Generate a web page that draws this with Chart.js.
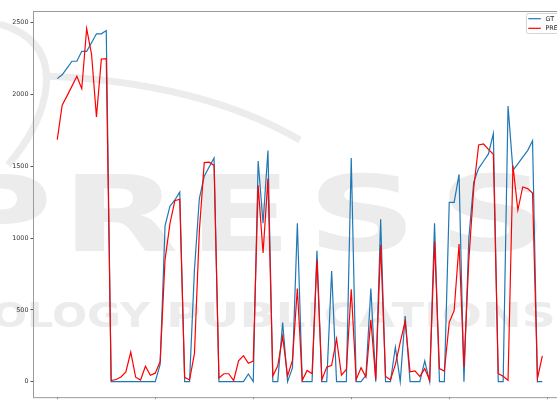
<!DOCTYPE html>
<html>
<head>
<meta charset="utf-8">
<script src="https://cdn.jsdelivr.net/npm/chart.js@4.4.1/dist/chart.umd.min.js"></script>
<style>
  html, body { margin: 0; padding: 0; background: #fff; overflow: hidden; }
  #wrap { width: 557px; height: 403px; overflow: hidden; }
  canvas { display: block; }
</style>
</head>
<body>
<div id="wrap"><canvas id="chart" width="580" height="403"></canvas></div>
<script>
// x ticks (labels are cut off below the picture), y ticks
const xTicks = [0, 20, 40, 60, 80, 100];
const yTicks = [0, 500, 1000, 1500, 2000, 2500];
const seriesNames = ['GT', 'PRE'];

// ground truth, 100 samples
const gtValues = [
  2110, 2137, 2183, 2231, 2231, 2300, 2300, 2360, 2422, 2422,
  2445, 0, 0, 0, 0, 0, 0, 0, 0, 0,
  0, 120, 1085, 1222, 1265, 1320, 0, 0, 780, 1275,
  1430, 1495, 1558, 0, 0, 0, 0, 0, 0, 53,
  0, 1536, 1103, 1609, 0, 0, 412, 0, 95, 1103,
  0, 0, 0, 912, 0, 0, 770, 0, 0, 0,
  1558, 0, 0, 44, 649, 0, 1130, 0, 0, 240,
  0, 456, 0, 0, 0, 145, 0, 1103, 0, 0,
  1248, 1248, 1443, 0, 1000, 1390, 1485, 1535, 1586, 1727,
  0, 0, 1920, 1471, 1517, 1563, 1609, 1678, 0, 0
];

// prediction, 100 samples
const preValues = [
  1685, 1925, 1990, 2058, 2127, 2040, 2459, 2280, 1844, 2247,
  2250, 8, 15, 33, 68, 206, 31, 11, 107, 45,
  59, 140, 850, 1100, 1260, 1270, 30, 12, 195, 1050,
  1525, 1528, 1506, 25, 55, 55, 8, 145, 181, 128,
  143, 1367, 896, 1414, 40, 110, 315, 40, 148, 649,
  9, 78, 55, 849, 14, 101, 113, 298, 45, 85,
  643, 14, 97, 32, 430, 15, 953, 36, 13, 118,
  275, 420, 68, 75, 36, 91, 10, 976, 91, 74,
  413, 494, 958, 104, 850, 1350, 1648, 1655, 1618, 1583,
  56, 38, 10, 1505, 1195, 1356, 1344, 1314, 22, 180
];

const lineColors = ['#1f77b4', '#ff0000'];

// white background, then the faint publisher watermark behind everything
const watermarkPlugin = {
  id: 'watermark',
  beforeDraw(chart) {
    const ctx = chart.ctx;
    ctx.save();
    ctx.fillStyle = '#fff';
    ctx.fillRect(0, 0, chart.width, chart.height);

    ctx.fillStyle = '#ececec';
    ctx.strokeStyle = '#ececec';
    ctx.lineWidth = 7;
    ctx.beginPath();
    ctx.moveTo(0, 24);
    ctx.quadraticCurveTo(55, 40, 45, 95);
    ctx.quadraticCurveTo(38, 130, 8, 165);
    ctx.stroke();
    ctx.beginPath();
    ctx.moveTo(45, 76);
    ctx.quadraticCurveTo(200, 82, 300, 140);
    ctx.stroke();

    ctx.font = 'bold 105px "DejaVu Sans"';
    ctx.textAlign = 'center';
    [[-3, 'P'], [120, 'R'], [240, 'E'], [362, 'S'], [493, 'S']].forEach(([x, t]) => {
      ctx.save();
      ctx.translate(x, 251);
      ctx.scale(1.45, 1);
      ctx.fillText(t, 0, 0);
      ctx.restore();
    });

    ctx.font = 'bold 34px "DejaVu Sans"';
    ctx.textAlign = 'left';
    [[-8, 150, 'OLOGY'], [166, 556, 'PUBLICATIONS']].forEach(([x0, x1, t]) => {
      const w = ctx.measureText(t).width;
      ctx.save();
      ctx.translate(x0, 327);
      ctx.scale((x1 - x0) / w, 1);
      ctx.fillText(t, 0, 0);
      ctx.restore();
    });
    ctx.restore();
  }
};

// axes frame + legend box in the top right corner
const framePlugin = {
  id: 'frame',
  afterDraw(chart) {
    const ctx = chart.ctx;
    const a = chart.chartArea;
    ctx.save();
    ctx.strokeStyle = '#9a9a9a';
    ctx.lineWidth = 1;
    ctx.strokeRect(a.left + 0.5, a.top + 0.5, a.right - a.left, a.bottom - a.top);

    // legend
    const lx = 526.5, ly = 13.5;
    ctx.fillStyle = 'rgba(255,255,255,0.8)';
    ctx.strokeStyle = '#d6d6d6';
    ctx.beginPath();
    ctx.roundRect(lx, ly, 60, 20, 2);
    ctx.fill();
    ctx.stroke();
    ctx.font = '6.4px "DejaVu Sans"';
    ctx.textBaseline = 'middle';
    ctx.textAlign = 'left';
    seriesNames.forEach((name, i) => {
      const y = 18.7 + i * 9.6;
      ctx.strokeStyle = lineColors[i];
      ctx.lineWidth = 1.2;
      ctx.beginPath();
      ctx.moveTo(528.3, y);
      ctx.lineTo(540.8, y);
      ctx.stroke();
      ctx.fillStyle = '#222';
      ctx.fillText(name, 545.5, y + 0.3);
    });
    ctx.restore();
  }
};

const toPoints = vals => vals.map((v, i) => ({ x: i, y: v }));

new Chart(document.getElementById('chart'), {
  type: 'line',
  data: {
    datasets: [
      {
        label: seriesNames[0],
        data: toPoints(gtValues),
        borderColor: lineColors[0],
        borderWidth: 1.2,
        order: 1
      },
      {
        label: seriesNames[1],
        data: toPoints(preValues),
        borderColor: lineColors[1],
        borderWidth: 1.2,
        order: 0
      }
    ]
  },
  options: {
    responsive: false,
    animation: false,
    devicePixelRatio: 1,
    elements: {
      point: { radius: 0 },
      line: { tension: 0, fill: false }
    },
    layout: { padding: { top: 11, right: 13.4, left: 0, bottom: 0 } },
    plugins: {
      legend: { display: false },
      tooltip: { enabled: false }
    },
    scales: {
      x: {
        type: 'linear',
        min: -4.95,
        max: 103.95,
        afterBuildTicks: s => { s.ticks = xTicks.map(v => ({ value: v })); },
        afterFit: s => { s.height = 2.7; },
        ticks: { display: false },
        grid: { drawOnChartArea: false, tickLength: 2, color: '#888' },
        border: { display: false }
      },
      y: {
        min: -108,
        max: 2581,
        afterBuildTicks: s => { s.ticks = yTicks.map(v => ({ value: v })); },
        afterFit: s => { s.width = 33; },
        ticks: {
          padding: 2,
          color: '#333',
          font: { family: '"DejaVu Sans"', size: 6.4 },
          callback: v => String(v)
        },
        grid: { drawOnChartArea: false, tickLength: 2.5, tickColor: '#555' },
        border: { display: false }
      }
    }
  },
  plugins: [watermarkPlugin, framePlugin]
});
</script>
</body>
</html>
